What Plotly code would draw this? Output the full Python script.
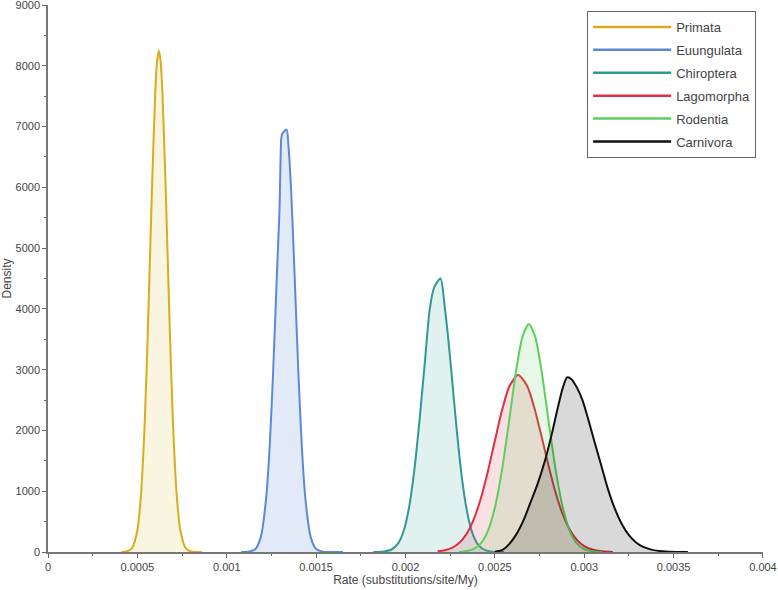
# -*- coding: utf-8 -*-

# Import needed libraries
import plotly.graph_objects as go

# Posterior densities of the substitution rate
# Rates are in substitutions/site/My
primata_rate = [0.00041, 0.00044, 0.00047, 0.00050, 0.00052, 0.00054, 0.00056, 0.00058, 0.00060, 0.00061,
                0.00062, 0.00063, 0.00064, 0.00066, 0.00068, 0.00070, 0.00072, 0.00074, 0.00077, 0.00080, 0.00086]
primata_dens = [0, 7, 63, 362, 941, 2057, 3778, 5830, 7566, 8073,
                8250, 8073, 7566, 5830, 3778, 2057, 941, 362, 63, 7, 0]

euungulata_rate = [0.00108, 0.00112, 0.00116, 0.00119, 0.00122, 0.00124, 0.00126, 0.00128, 0.001295, 0.001305,
                   0.00131, 0.001335, 0.001345, 0.00136, 0.00138, 0.00140, 0.00142, 0.00144, 0.00147, 0.00150,
                   0.00154, 0.00158, 0.00165]
euungulata_dens = [0, 4, 49, 241, 873, 1732, 3002, 4527, 5632, 6800,
                   6880, 6950, 6690, 5957, 4527, 3002, 1732, 873, 241, 49,
                   4, 0, 0]

chiroptera_rate = [0.00182, 0.00188, 0.00192, 0.00196, 0.00199, 0.00202, 0.00205, 0.00208, 0.00211, 0.002135,
                   0.00216, 0.002196, 0.00222, 0.00224, 0.00226, 0.00228, 0.00230, 0.00232, 0.00234, 0.00236,
                   0.00238, 0.00241, 0.00245, 0.00250, 0.00255]
chiroptera_dens = [0, 8, 37, 146, 349, 734, 1358, 2214, 3181, 3980,
                   4350, 4500, 4018, 3487, 2861, 2214, 1620, 1121, 734, 453,
                   265, 106, 26, 0, 0]

lagomorpha_rate = [0.00218, 0.00222, 0.00226, 0.00230, 0.00234, 0.00238, 0.00242, 0.00246, 0.00250, 0.00254,
                   0.00258, 0.00263, 0.00268, 0.00272, 0.00276, 0.00280, 0.00284, 0.00288, 0.00292, 0.00296,
                   0.00300, 0.00305, 0.00310, 0.00316]
lagomorpha_dens = [11, 29, 68, 147, 290, 524, 868, 1317, 1831, 2331,
                   2718, 2911, 2736, 2381, 1915, 1423, 975, 617, 362, 196,
                   98, 37, 12, 0]

rodentia_rate = [0.00230, 0.00234, 0.00238, 0.00242, 0.00246, 0.00250, 0.00254, 0.00258, 0.00262, 0.002655,
                 0.00269, 0.002725, 0.00276, 0.00280, 0.00284, 0.00288, 0.00292, 0.00296, 0.00300, 0.00304,
                 0.00310]
rodentia_dens = [0, 15, 48, 138, 340, 730, 1350, 2166, 3004, 3547,
                 3750, 3547, 3004, 2166, 1350, 730, 340, 138, 48, 15,
                 0]

carnivora_rate = [0.00250, 0.00254, 0.00258, 0.00262, 0.00266, 0.00270, 0.00274, 0.00278, 0.00282, 0.00285,
                  0.00288, 0.002904, 0.00293, 0.00296, 0.00299, 0.00302, 0.00306, 0.003094, 0.00313, 0.00317,
                  0.00321, 0.00325, 0.00329, 0.00333, 0.00338, 0.00344, 0.00352, 0.00358]
carnivora_dens = [5, 30, 130, 290, 520, 820, 1130, 1500, 1960, 2350,
                  2700, 2873, 2840, 2700, 2500, 2209, 1786, 1436, 1060, 722,
                  462, 277, 157, 83, 35, 11, 0, 0]

# Tick values for the axes
x_ticks = [0, 0.0005, 0.001, 0.0015, 0.002, 0.0025, 0.003, 0.0035, 0.004]
x_labels = ['0', '0.0005', '0.001', '0.0015', '0.002', '0.0025', '0.003', '0.0035', '0.004']
y_ticks = [0, 1000, 2000, 3000, 4000, 5000, 6000, 7000, 8000, 9000]

# name, x, y, line colour, fill colour
series = [
    ('Primata', primata_rate, primata_dens, '#d8ad1c', 'rgba(224,190,60,0.16)'),
    ('Euungulata', euungulata_rate, euungulata_dens, '#5b8ad4', 'rgba(92,140,214,0.18)'),
    ('Chiroptera', chiroptera_rate, chiroptera_dens, '#2e9a92', 'rgba(46,158,148,0.15)'),
    ('Lagomorpha', lagomorpha_rate, lagomorpha_dens, '#df2f40', 'rgba(224,48,64,0.15)'),
    ('Rodentia', rodentia_rate, rodentia_dens, '#5ccf5c', 'rgba(92,207,92,0.15)'),
    ('Carnivora', carnivora_rate, carnivora_dens, '#111111', 'rgba(0,0,0,0.15)'),
]

fig = go.Figure()
for name, xs, ys, lc, fc in series:
    # filled density curve
    fig.add_trace(go.Scatter(
        x = xs,
        y = ys,
        name = name,
        legendgroup = name,
        showlegend = False,
        mode = 'lines',
        line = dict(color = lc, width = 2, shape = 'spline', smoothing = 0.7),
        fill = 'tozeroy',
        fillcolor = fc
    ))
    # plain line entry for the legend (no fill swatch)
    fig.add_trace(go.Scatter(
        x = [None],
        y = [None],
        name = name,
        legendgroup = name,
        mode = 'lines',
        line = dict(color = lc, width = 2.5)
    ))

axis_font = dict(family = 'Liberation Sans, Arial, sans-serif', size = 11, color = '#444444')

fig.update_layout(
    width = 778,
    height = 590,
    margin = dict(l = 48, r = 15, t = 5, b = 38, autoexpand = False),
    paper_bgcolor = 'white',
    plot_bgcolor = 'white',
    showlegend = True,
    font = dict(family = 'Liberation Sans, Arial, sans-serif', size = 12, color = '#444444'),
    legend = dict(
        x = 0.9904, y = 0.9890, xanchor = 'right', yanchor = 'top',
        bordercolor = '#666666', borderwidth = 1,
        bgcolor = 'white',
        font = dict(size = 13, color = '#444444'),
        traceorder = 'grouped',
        tracegroupgap = 3,
        itemwidth = 78
    )
)

fig.update_xaxes(
    range = [-0.0000001, 0.0040001],
    automargin = False,
    ticklabeloverflow = 'allow',
    tickvals = x_ticks,
    ticktext = x_labels,
    tickfont = axis_font,
    ticks = 'outside', ticklen = 4, tickcolor = '#666666',
    minor = dict(ticks = 'outside', ticklen = 2, dtick = 0.00025, tick0 = 0, tickcolor = '#666666'),
    showline = True, linecolor = '#777777', linewidth = 1.5,
    showgrid = False, zeroline = False,
    title = dict(text = 'Rate (substitutions/site/My)', font = dict(size = 12, color = '#444444'), standoff = 3)
)
fig.update_yaxes(
    range = [0, 9000.01],
    automargin = False,
    ticklabeloverflow = 'allow',
    tickvals = y_ticks,
    tickfont = axis_font,
    ticks = 'outside', ticklen = 4, tickcolor = '#666666',
    minor = dict(ticks = 'outside', ticklen = 2, dtick = 500, tick0 = 0, tickcolor = '#666666'),
    showline = True, linecolor = '#777777', linewidth = 1.5,
    showgrid = False, zeroline = False,
    title = dict(text = 'Density', font = dict(size = 12, color = '#444444'), standoff = 6)
)

# the page body has a default 8px margin, drop it so the figure fills the window
fig.write_html("out.html", config = {'displayModeBar': False},
               post_script = "document.body.style.margin = '0';")
